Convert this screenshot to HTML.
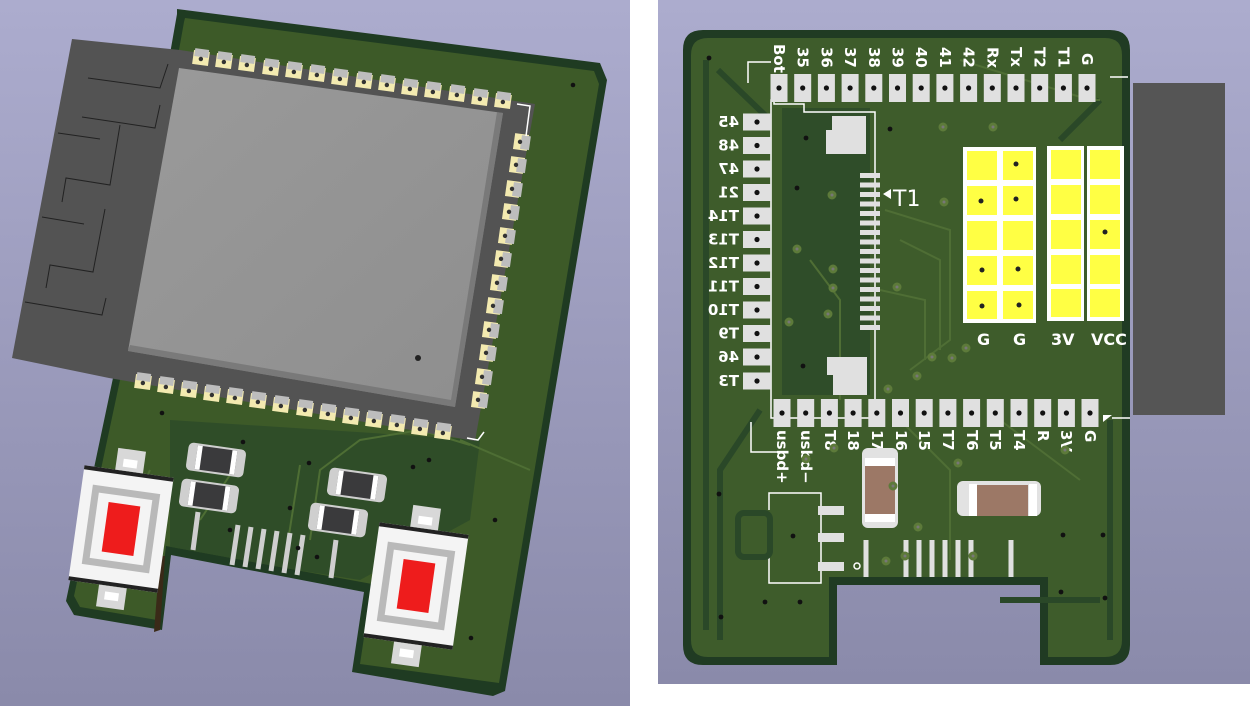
<!DOCTYPE html>
<html><head><meta charset="utf-8"><style>
html,body{margin:0;padding:0;background:#fff;}
svg{display:block}
text{font-family:"DejaVu Sans","Liberation Sans",sans-serif;font-weight:bold;fill:#fff}
</style></head><body>
<svg width="1250" height="706" viewBox="0 0 1250 706" xmlns="http://www.w3.org/2000/svg">
<defs>
<linearGradient id="bg" x1="0" y1="0" x2="0" y2="1">
<stop offset="0" stop-color="#acacce"/><stop offset="1" stop-color="#8a8aaa"/>
</linearGradient>
<linearGradient id="can" x1="0" y1="0" x2="1" y2="1">
<stop offset="0" stop-color="#9a9a9a"/><stop offset="1" stop-color="#8e8e8e"/>
</linearGradient>
<clipPath id="lb"><polygon points="185,18 594,71 599,84 499,683 360,664 372,584 166,546 157,620 80,607 74,596 120,380 184,22"/></clipPath>
<g id="mp"><rect x="-8" y="-7" width="16" height="14" fill="#f3eab0"/><rect x="-7" y="-9" width="14" height="8" fill="#bdbdbd"/><circle cx="0" cy="1" r="2.2" fill="#333"/></g>
<g id="mpr"><rect x="-7" y="-8" width="14" height="16" fill="#f3eab0"/><rect x="0" y="-7" width="9" height="14" fill="#bdbdbd"/><circle cx="-1" cy="0" r="2.2" fill="#333"/></g>
<g id="rp"><rect x="-8.5" y="-14" width="17" height="28" fill="#e0e0e0"/><circle cx="0" cy="0" r="2.6" fill="#111"/></g>
<g id="lp"><rect x="-14" y="-8.5" width="28" height="17" fill="#e0e0e0"/><circle cx="0" cy="0" r="2.6" fill="#111"/></g>
<g id="res"><rect x="-29" y="-14" width="58" height="28" rx="5" fill="#cfcfcf"/><rect x="-20" y="-12" width="40" height="24" fill="#3a3a3c"/><rect x="-20" y="-12" width="5" height="24" fill="#fff"/><rect x="15" y="-12" width="5" height="24" fill="#fff"/></g>
<g id="btn"><rect x="-45" y="-58" width="90" height="116" fill="#f4f4f4"/><rect x="-45" y="-58" width="90" height="4" fill="#222"/><rect x="-45" y="54" width="90" height="4" fill="#222"/><rect x="-34" y="-40" width="68" height="80" fill="#b9b9b9"/><rect x="-27" y="-33" width="54" height="66" fill="#f4f4f4"/><rect x="-16" y="-25" width="32" height="50" fill="#ee1c1c"/><rect x="-14" y="-80" width="28" height="22" fill="#d8d8d8"/><rect x="-14" y="58" width="28" height="22" fill="#d8d8d8"/><rect x="-7" y="-70" width="14" height="8" fill="#fff"/><rect x="-7" y="64" width="14" height="8" fill="#fff"/></g>
</defs>
<rect width="1250" height="706" fill="#fff"/>
<rect x="0" y="0" width="630" height="706" fill="url(#bg)"/>
<rect x="658" y="0" width="592" height="684" fill="url(#bg)"/>

<!-- LEFT BOARD -->
<polygon points="177,9 600,63 607,80 505,691 493,696 352,672 364,592 171,555 162,630 74,615 66,601 113,378 177,14" fill="#1f3b22"/>
<polygon points="185,18 594,71 599,84 499,683 360,664 372,584 166,546 157,620 80,607 74,596 120,380 184,22" fill="#3d5a28"/>
<g clip-path="url(#lb)">
<polygon points="170,420 480,440 470,520 360,580 170,550" fill="#2c4a28" opacity="0.8"/>
<path d="M310,540 L320,470 L360,440 L420,430 L470,445 M285,560 L300,465 M460,440 L530,470 M200,520 L240,460 M110,560 L150,470" stroke="#4e6e34" stroke-width="2" fill="none"/>
</g>
<polygon points="165,556 160,630 154,632 160,556" fill="#3a2a18"/>
<!-- antenna + module -->
<polygon points="72,39 180,50 535,104 475,441 109,378 12,358" fill="#535353"/>
<path d="M88,78 L160,88 L168,64 M82,117 L155,128 L160,105 M58,133 L100,139 M120,125 L110,185 L66,178 L62,202 M42,217 L84,224 M105,209 L93,272 L50,265 L46,288 M25,302 L102,315 L106,298" stroke="#222" stroke-width="1" fill="none"/>
<polygon points="179,68 503,113 455,407 128,351" fill="url(#can)"/>
<polygon points="503,113 455,407 128,351 130,345 451,400 497,112" fill="#6f6f6f" opacity="0.7"/>
<circle cx="418" cy="358" r="3" fill="#222"/>
<g>
<use href="#mp" transform="translate(201,58) rotate(8)"/><use href="#mp" transform="translate(224,61) rotate(8)"/><use href="#mp" transform="translate(247,64) rotate(8)"/><use href="#mp" transform="translate(271,68) rotate(8)"/><use href="#mp" transform="translate(294,71) rotate(8)"/><use href="#mp" transform="translate(317,74) rotate(8)"/><use href="#mp" transform="translate(340,78) rotate(8)"/><use href="#mp" transform="translate(364,81) rotate(8)"/><use href="#mp" transform="translate(387,84) rotate(8)"/><use href="#mp" transform="translate(410,88) rotate(8)"/><use href="#mp" transform="translate(433,91) rotate(8)"/><use href="#mp" transform="translate(457,94) rotate(8)"/><use href="#mp" transform="translate(480,98) rotate(8)"/><use href="#mp" transform="translate(503,101) rotate(8)"/>
<use href="#mpr" transform="translate(521,142) rotate(8)"/><use href="#mpr" transform="translate(517,165) rotate(8)"/><use href="#mpr" transform="translate(513,189) rotate(8)"/><use href="#mpr" transform="translate(510,212) rotate(8)"/><use href="#mpr" transform="translate(506,236) rotate(8)"/><use href="#mpr" transform="translate(502,259) rotate(8)"/><use href="#mpr" transform="translate(498,283) rotate(8)"/><use href="#mpr" transform="translate(494,306) rotate(8)"/><use href="#mpr" transform="translate(490,330) rotate(8)"/><use href="#mpr" transform="translate(487,353) rotate(8)"/><use href="#mpr" transform="translate(483,377) rotate(8)"/><use href="#mpr" transform="translate(479,400) rotate(8)"/>
<use href="#mp" transform="translate(143,382) rotate(8)"/><use href="#mp" transform="translate(166,386) rotate(8)"/><use href="#mp" transform="translate(189,390) rotate(8)"/><use href="#mp" transform="translate(212,394) rotate(8)"/><use href="#mp" transform="translate(235,397) rotate(8)"/><use href="#mp" transform="translate(258,401) rotate(8)"/><use href="#mp" transform="translate(281,405) rotate(8)"/><use href="#mp" transform="translate(305,409) rotate(8)"/><use href="#mp" transform="translate(328,413) rotate(8)"/><use href="#mp" transform="translate(351,417) rotate(8)"/><use href="#mp" transform="translate(374,420) rotate(8)"/><use href="#mp" transform="translate(397,424) rotate(8)"/><use href="#mp" transform="translate(420,428) rotate(8)"/><use href="#mp" transform="translate(443,432) rotate(8)"/>
</g>
<path d="M517,104 L530,106 L526,136 M484,432 L478,440 L467,438" stroke="#fff" stroke-width="1.5" fill="none"/>
<use href="#res" transform="translate(216,460) rotate(8)"/>
<use href="#res" transform="translate(209,496) rotate(8)"/>
<use href="#res" transform="translate(357,485) rotate(8)"/>
<use href="#res" transform="translate(338,520) rotate(8)"/>
<g stroke="#cfcfcf" stroke-width="5">
<path d="M238,525 L232,565 M251,527 L245,567 M264,529 L258,569 M277,531 L271,571 M290,533 L284,573 M303,535 L297,575 M198,512 L193,550 M336,540 L331,578"/>
</g>
<use href="#btn" transform="translate(121,529) rotate(8)"/>
<use href="#btn" transform="translate(416,586) rotate(8)"/>
<g fill="#111"><circle cx="573" cy="85" r="2.3"/><circle cx="162" cy="413" r="2.3"/><circle cx="243" cy="442" r="2.3"/><circle cx="309" cy="463" r="2.3"/><circle cx="429" cy="460" r="2.3"/><circle cx="413" cy="467" r="2.3"/><circle cx="230" cy="530" r="2.3"/><circle cx="290" cy="508" r="2.3"/><circle cx="298" cy="548" r="2.3"/><circle cx="317" cy="557" r="2.3"/><circle cx="495" cy="520" r="2.3"/><circle cx="471" cy="638" r="2.3"/></g>

<!-- RIGHT BOARD -->
<path d="M703,30 L1110,30 Q1130,30 1130,50 L1130,645 Q1130,665 1110,665 L1040,665 L1040,585 L837,585 L837,665 L703,665 Q683,665 683,645 L683,50 Q683,30 703,30 Z" fill="#203b23"/>
<path d="M708,38 L1105,38 Q1122,38 1122,55 L1122,640 Q1122,657 1105,657 L1048,657 L1048,577 L829,577 L829,657 L708,657 Q691,657 691,640 L691,55 Q691,38 708,38 Z" fill="#3e5c2b"/>
<rect x="1133" y="83" width="92" height="332" fill="#555"/>
<path d="M706,60 L706,630 M718,70 L770,120 M760,410 L720,470 L720,640 M1110,420 L1110,640 M1100,100 L1060,140 M1000,600 L1100,600" stroke="#2a4828" stroke-width="6" fill="none"/>
<path d="M782,108 L870,108 L870,395 L782,395 Z" fill="#2f4d29"/>
<path d="M885,210 L950,230 L950,340 L910,370 M900,240 L940,260 L940,350 M880,290 L925,300 L925,360 M810,260 L840,300 L840,400 M900,420 L950,470 L950,560 M1000,420 L1080,480 M960,60 L1090,100 L1100,100" stroke="#4f6e35" stroke-width="2" fill="none"/>
<path d="M748,83 L748,62 L771,62 M751,422 L751,452 L777,452 M774,100 L771,100 L771,418 L875,418 L875,112 L804,112 L804,104 L774,104 Z" stroke="#fff" stroke-width="1.5" fill="none"/>
<rect x="832" y="116" width="34" height="38" fill="#e0e0e0"/><rect x="826" y="130" width="10" height="24" fill="#e0e0e0"/>
<rect x="833" y="357" width="34" height="38" fill="#e0e0e0"/><rect x="827" y="357" width="10" height="18" fill="#e0e0e0"/>
<g fill="#e0e0e0">
<rect x="860" y="173" width="20" height="5"/><rect x="860" y="182.5" width="20" height="5"/><rect x="860" y="192" width="20" height="5"/><rect x="860" y="201.5" width="20" height="5"/><rect x="860" y="211" width="20" height="5"/><rect x="860" y="220.5" width="20" height="5"/><rect x="860" y="230" width="20" height="5"/><rect x="860" y="239.5" width="20" height="5"/><rect x="860" y="249" width="20" height="5"/><rect x="860" y="258.5" width="20" height="5"/><rect x="860" y="268" width="20" height="5"/><rect x="860" y="277.5" width="20" height="5"/><rect x="860" y="287" width="20" height="5"/><rect x="860" y="296.5" width="20" height="5"/><rect x="860" y="306" width="20" height="5"/><rect x="860" y="315.5" width="20" height="5"/><rect x="860" y="325" width="20" height="5"/>
</g>
<polygon points="883,194 891,189 891,199" fill="#fff"/>
<text x="893" y="206" font-size="22" style="font-weight:normal">T1</text>
<!-- top pads -->
<g>
<use href="#rp" transform="translate(779,88)"/><use href="#rp" transform="translate(802.7,88)"/><use href="#rp" transform="translate(826.4,88)"/><use href="#rp" transform="translate(850.1,88)"/><use href="#rp" transform="translate(873.8,88)"/><use href="#rp" transform="translate(897.5,88)"/><use href="#rp" transform="translate(921.2,88)"/><use href="#rp" transform="translate(944.9,88)"/><use href="#rp" transform="translate(968.6,88)"/><use href="#rp" transform="translate(992.3,88)"/><use href="#rp" transform="translate(1016,88)"/><use href="#rp" transform="translate(1039.7,88)"/><use href="#rp" transform="translate(1063.4,88)"/><use href="#rp" transform="translate(1087,88)"/>
</g>
<g font-size="15">
<text transform="translate(774,44) rotate(90)">Bot</text><text transform="translate(797.7,47) rotate(90)">35</text><text transform="translate(821.4,47) rotate(90)">36</text><text transform="translate(845.1,47) rotate(90)">37</text><text transform="translate(868.8,47) rotate(90)">38</text><text transform="translate(892.5,47) rotate(90)">39</text><text transform="translate(916.2,47) rotate(90)">40</text><text transform="translate(939.9,47) rotate(90)">41</text><text transform="translate(963.6,47) rotate(90)">42</text><text transform="translate(987.3,47) rotate(90)">Rx</text><text transform="translate(1011,47) rotate(90)">Tx</text><text transform="translate(1034.7,47) rotate(90)">T2</text><text transform="translate(1058.4,47) rotate(90)">T1</text><text transform="translate(1082,53) rotate(90)">G</text>
</g>
<!-- left pads -->
<g>
<use href="#lp" transform="translate(757,122)"/><use href="#lp" transform="translate(757,145.5)"/><use href="#lp" transform="translate(757,169)"/><use href="#lp" transform="translate(757,192.5)"/><use href="#lp" transform="translate(757,216)"/><use href="#lp" transform="translate(757,239.5)"/><use href="#lp" transform="translate(757,263)"/><use href="#lp" transform="translate(757,286.5)"/><use href="#lp" transform="translate(757,310)"/><use href="#lp" transform="translate(757,333.5)"/><use href="#lp" transform="translate(757,357)"/><use href="#lp" transform="translate(757,381)"/>
</g>
<g font-size="15">
<text transform="translate(739,127) scale(-1,1)">45</text><text transform="translate(739,150.5) scale(-1,1)">48</text><text transform="translate(739,174) scale(-1,1)">47</text><text transform="translate(739,197.5) scale(-1,1)">21</text><text transform="translate(739,221) scale(-1,1)">T14</text><text transform="translate(739,244.5) scale(-1,1)">T13</text><text transform="translate(739,268) scale(-1,1)">T12</text><text transform="translate(739,291.5) scale(-1,1)">T11</text><text transform="translate(739,315) scale(-1,1)">T10</text><text transform="translate(739,338.5) scale(-1,1)">T9</text><text transform="translate(739,362) scale(-1,1)">46</text><text transform="translate(739,386) scale(-1,1)">T3</text>
</g>
<!-- bottom pads -->
<g>
<use href="#rp" transform="translate(782,413)"/><use href="#rp" transform="translate(805.7,413)"/><use href="#rp" transform="translate(829.4,413)"/><use href="#rp" transform="translate(853.1,413)"/><use href="#rp" transform="translate(876.8,413)"/><use href="#rp" transform="translate(900.5,413)"/><use href="#rp" transform="translate(924.2,413)"/><use href="#rp" transform="translate(947.9,413)"/><use href="#rp" transform="translate(971.6,413)"/><use href="#rp" transform="translate(995.3,413)"/><use href="#rp" transform="translate(1019,413)"/><use href="#rp" transform="translate(1042.7,413)"/><use href="#rp" transform="translate(1066.4,413)"/><use href="#rp" transform="translate(1090,413)"/>
</g>
<g font-size="15">
<text transform="translate(777,430) rotate(90)">usbd+</text><text transform="translate(801,430) rotate(90)">usbd−</text><text transform="translate(825,430) rotate(90)">T8</text><text transform="translate(848,430) rotate(90)">18</text><text transform="translate(872,430) rotate(90)">17</text><text transform="translate(896,430) rotate(90)">16</text><text transform="translate(919,430) rotate(90)">15</text><text transform="translate(943,430) rotate(90)">T7</text><text transform="translate(967,430) rotate(90)">T6</text><text transform="translate(990,430) rotate(90)">T5</text><text transform="translate(1014,430) rotate(90)">T4</text><text transform="translate(1038,430) rotate(90)">R</text><text transform="translate(1061,430) rotate(90)">3V</text><text transform="translate(1085,430) rotate(90)">G</text>
</g>
<polygon points="1103,422 1112,415 1103,415" fill="#fff"/><path d="M1112,418 L1130,418 M1110,77 L1128,77" stroke="#fff" stroke-width="1.5"/>
<!-- yellow header -->
<rect x="963" y="147" width="73" height="176" fill="#fff"/>
<rect x="1047" y="146" width="77" height="175" fill="#fff"/>
<g fill="#ffff44">
<rect x="967" y="151" width="30" height="29"/><rect x="1003" y="151" width="30" height="29"/>
<rect x="967" y="186" width="30" height="29"/><rect x="1003" y="186" width="30" height="29"/>
<rect x="967" y="221" width="30" height="29"/><rect x="1003" y="221" width="30" height="29"/>
<rect x="967" y="256" width="30" height="29"/><rect x="1003" y="256" width="30" height="29"/>
<rect x="967" y="291" width="30" height="28"/><rect x="1003" y="291" width="30" height="28"/>
<rect x="1051" y="150" width="30" height="29"/><rect x="1090" y="150" width="30" height="29"/>
<rect x="1051" y="185" width="30" height="29"/><rect x="1090" y="185" width="30" height="29"/>
<rect x="1051" y="220" width="30" height="29"/><rect x="1090" y="220" width="30" height="29"/>
<rect x="1051" y="255" width="30" height="29"/><rect x="1090" y="255" width="30" height="29"/>
<rect x="1051" y="289" width="30" height="28"/><rect x="1090" y="289" width="30" height="28"/>
</g>
<rect x="1084" y="146" width="3" height="175" fill="#3e5c2b"/>
<g fill="#222"><circle cx="1016" cy="164" r="2.5"/><circle cx="981" cy="201" r="2.5"/><circle cx="1016" cy="199" r="2.5"/><circle cx="1105" cy="232" r="2.5"/><circle cx="982" cy="270" r="2.5"/><circle cx="1018" cy="269" r="2.5"/><circle cx="982" cy="306" r="2.5"/><circle cx="1019" cy="305" r="2.5"/></g>
<g font-size="16"><text x="977" y="345">G</text><text x="1013" y="345">G</text><text x="1051" y="345">3V</text><text x="1091" y="345">VCC</text></g>
<!-- caps -->
<rect x="862" y="448" width="36" height="80" rx="6" fill="#e2e2e2"/><rect x="865" y="458" width="30" height="8" fill="#fff"/><rect x="865" y="466" width="30" height="48" fill="#9c7866"/><rect x="865" y="514" width="30" height="8" fill="#fff"/>
<rect x="957" y="481" width="84" height="35" rx="6" fill="#e2e2e2"/><rect x="969" y="484" width="8" height="32" fill="#fff"/><rect x="977" y="485" width="51" height="31" fill="#9c7866"/><rect x="1029" y="484" width="8" height="32" fill="#fff"/>
<!-- usb footprint -->
<path d="M769,510 L769,493 L821,493 L821,583 L769,583 L769,545" stroke="#fff" stroke-width="1.5" fill="none"/>
<rect x="738" y="513" width="32" height="44" rx="6" fill="none" stroke="#2a4828" stroke-width="6"/>
<g fill="#e0e0e0"><rect x="818" y="506" width="26" height="9"/><rect x="818" y="533" width="26" height="9"/><rect x="818" y="562" width="26" height="9"/></g>
<circle cx="857" cy="566" r="3" fill="none" stroke="#fff" stroke-width="1.5"/>
<g stroke="#e0e0e0" stroke-width="5"><path d="M866,540 L866,577 M906,540 L906,577 M919,540 L919,577 M932,540 L932,577 M945,540 L945,577 M958,540 L958,577 M971,540 L971,577 M1011,540 L1011,577"/></g>
<g fill="#111"><circle cx="719" cy="494" r="2.4"/><circle cx="793" cy="536" r="2.4"/><circle cx="765" cy="602" r="2.4"/><circle cx="800" cy="602" r="2.4"/><circle cx="721" cy="617" r="2.4"/><circle cx="709" cy="58" r="2.4"/><circle cx="1063" cy="535" r="2.4"/><circle cx="1103" cy="535" r="2.4"/><circle cx="1061" cy="592" r="2.4"/><circle cx="1105" cy="598" r="2.4"/><circle cx="806" cy="138" r="2.4"/><circle cx="797" cy="188" r="2.4"/><circle cx="890" cy="129" r="2.4"/><circle cx="803" cy="366" r="2.4"/></g>
<g fill="#777" stroke="#5d7a3a" stroke-width="3"><circle cx="943" cy="127" r="3"/><circle cx="993" cy="127" r="3"/><circle cx="832" cy="195" r="3"/><circle cx="944" cy="202" r="3"/><circle cx="797" cy="249" r="3"/><circle cx="833" cy="269" r="3"/><circle cx="833" cy="288" r="3"/><circle cx="828" cy="314" r="3"/><circle cx="897" cy="287" r="3"/><circle cx="789" cy="322" r="3"/><circle cx="966" cy="348" r="3"/><circle cx="932" cy="357" r="3"/><circle cx="952" cy="358" r="3"/><circle cx="917" cy="376" r="3"/><circle cx="888" cy="389" r="3"/><circle cx="893" cy="486" r="3"/><circle cx="958" cy="463" r="3"/><circle cx="918" cy="527" r="3"/><circle cx="886" cy="561" r="3"/><circle cx="905" cy="556" r="3"/><circle cx="973" cy="556" r="3"/><circle cx="834" cy="448" r="3"/><circle cx="806" cy="459" r="3"/><circle cx="1065" cy="450" r="3"/></g>
</svg>
</body></html>
